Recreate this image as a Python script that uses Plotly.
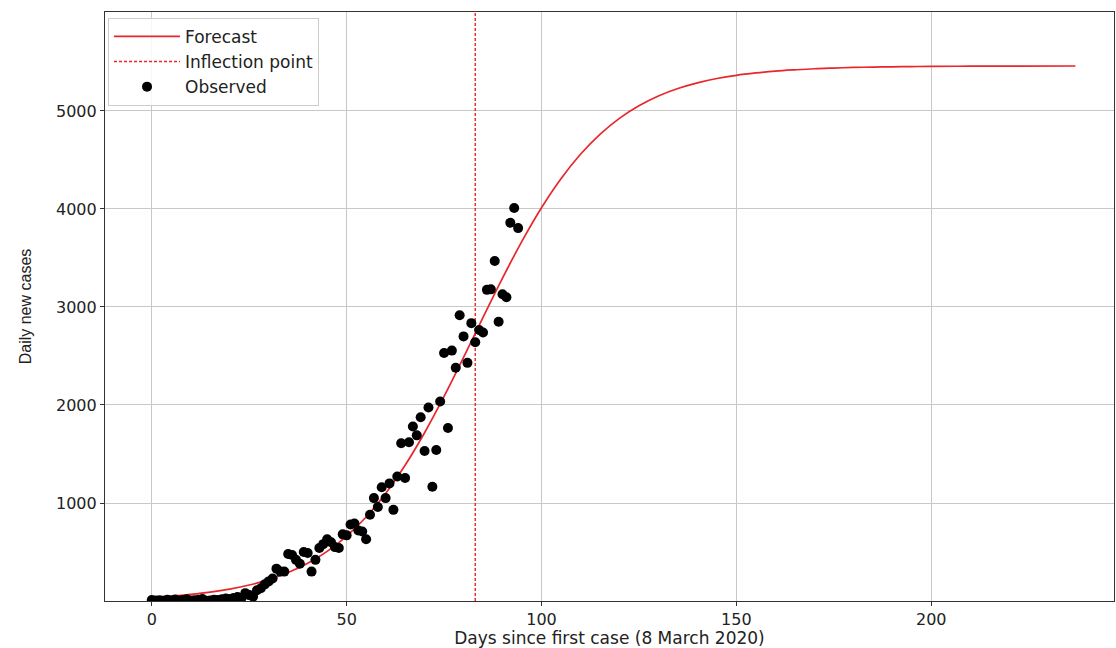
import plotly.graph_objects as go

# Observed daily values (days 0..94)
obs_days = list(range(0, 95))
obs_cases = [10, 5, 8, 3, 12, 6, 15, 4, 10, 18,
             6, 8, 12, 20, 2, 6, 14, 10, 18, 25,
             20, 30, 40, 28, 80, 60, 45, 110, 130, 170,
             200, 230, 330, 300, 300, 480, 470, 420, 380, 500,
             490, 300, 420, 540, 580, 630, 600, 550, 540, 680,
             670, 780, 790, 720, 710, 630, 880, 1050, 960, 1160,
             1050, 1200, 930, 1270, 1610, 1255, 1620, 1780, 1690, 1875,
             1530, 1975, 1165, 1540, 2035, 2530, 1765, 2555, 2380, 2915,
             2700, 2430, 2835, 2640, 2765, 2740, 3175, 3180, 3470, 2850,
             3130, 3100, 3860, 4010, 3805]

# Forecast curve
fc_days = [0, 5, 10, 15, 20, 25, 30, 35, 40, 45, 50, 55, 60, 65, 70, 75, 80, 85, 90, 95,
           100, 105, 110, 115, 120, 125, 130, 135, 140, 145, 150, 155, 160, 165, 170, 175,
           180, 185, 190, 195, 200, 210, 220, 237]
fc_cases = [37, 50, 68, 91, 122, 163, 218, 290, 384, 506, 663, 857, 1098, 1385, 1717, 2087,
            2485, 2894, 3295, 3672, 4013, 4309, 4558, 4762, 4925, 5053, 5153, 5229, 5287, 5331,
            5364, 5388, 5407, 5420, 5431, 5438, 5444, 5448, 5451, 5453, 5455, 5457, 5458, 5459]

inflection_day = 83
x_range = [-12.0, 246.9]
y_range = [0, 6010]
x_ticks = [0, 50, 100, 150, 200]
y_ticks = [1000, 2000, 3000, 4000, 5000]

RED = "#e8262b"
FONT = "DejaVu Sans"

fig = go.Figure()
fig.add_trace(go.Scatter(x=fc_days, y=fc_cases, mode="lines", name="Forecast",
                         line=dict(color=RED, width=1.7, shape="spline")))
fig.add_trace(go.Scatter(x=[inflection_day, inflection_day], y=y_range, mode="lines",
                         name="Inflection point",
                         line=dict(color=RED, width=1.4, dash="3px,2px")))
fig.add_trace(go.Scatter(x=obs_days, y=obs_cases, mode="markers", name="Observed",
                         marker=dict(color="black", size=10)))

axis_common = dict(showgrid=True, gridcolor="#c8c8c8", gridwidth=1,
                   showline=True, linecolor="#333333", linewidth=1.2, mirror=True,
                   ticks="outside", ticklen=4, tickcolor="#333333", zeroline=False,
                   tickfont=dict(family=FONT, size=16, color="#222222"))

fig.update_layout(
    width=1116, height=648,
    margin=dict(l=105, r=2, t=12, b=47),
    paper_bgcolor="white", plot_bgcolor="white",
    font=dict(family=FONT, size=16, color="#222222"),
    xaxis=dict(range=x_range, tickvals=x_ticks,
               title=dict(text="Days since first case (8 March 2020)",
                          font=dict(family=FONT, size=17), standoff=1),
               **axis_common),
    yaxis=dict(range=y_range, tickvals=y_ticks,
               title=dict(text="Daily new cases",
                          font=dict(family="Liberation Sans, Arial, sans-serif", size=16),
                          standoff=20),
               **axis_common),
    legend=dict(x=0.003, y=0.99, xanchor="left", yanchor="top",
                bgcolor="rgba(255,255,255,0.85)", bordercolor="#cccccc", borderwidth=1,
                font=dict(family=FONT, size=17, color="#222222"),
                itemwidth=66, tracegroupgap=0),
    showlegend=True,
)

fig.write_html("out.html", config={"displayModeBar": False})

# remove default page margin so the figure sits at the window's top-left corner
with open("out.html", "r", encoding="utf-8") as f:
    html = f.read()
html = html.replace("<head>", "<head><style>html,body{margin:0;padding:0;overflow:hidden}</style>", 1)
with open("out.html", "w", encoding="utf-8") as f:
    f.write(html)
